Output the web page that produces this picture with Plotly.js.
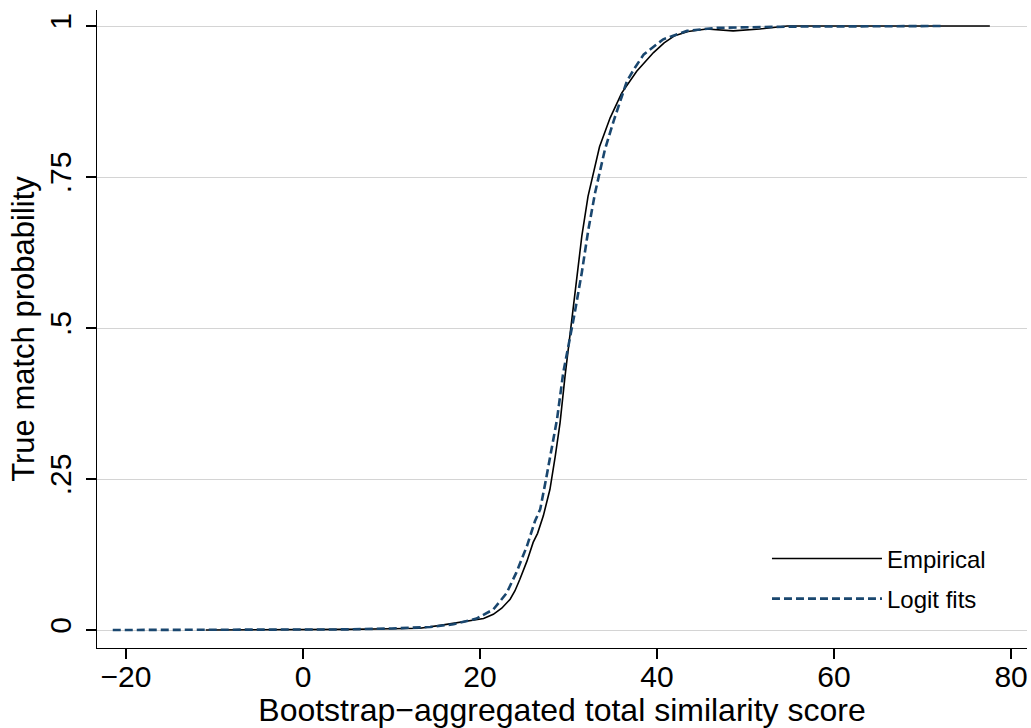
<!DOCTYPE html>
<html><head><meta charset="utf-8">
<script src="https://cdn.plot.ly/plotly-3.0.1.min.js"></script>
<style>html,body{margin:0;padding:0;background:#fff}#chart{width:1031px;height:728px}</style>
</head><body><div id="chart"></div><script>
// Empirical curve
const empiricalX = [-11, -5, 0, 5, 10, 13.2, 15.5, 17.0, 18.9, 20.4, 21.5, 22.45, 23.4, 23.95, 24.5, 25.3, 26.0, 26.5, 27.15, 27.9, 28.5, 29.04, 29.6, 30.1, 30.36, 30.9, 31.5, 32.2, 32.8, 33.5, 34.7, 36.0, 37.7, 39.6, 40.8, 42.0, 43.5, 45.6, 48.6, 51.6, 54.7, 77.6];
const empiricalY = [0, 0, 0.0005, 0.001, 0.002, 0.003, 0.0076, 0.011, 0.015, 0.019, 0.026, 0.036, 0.051, 0.065, 0.084, 0.114, 0.145, 0.16, 0.189, 0.233, 0.288, 0.343, 0.42, 0.48, 0.52, 0.586, 0.652, 0.718, 0.755, 0.80, 0.848, 0.889, 0.925, 0.956, 0.972, 0.984, 0.991, 0.995, 0.992, 0.995, 1.0, 1.0];
// Logit fits
const logitX = [-21.5, -10, 0, 5, 10, 14.35, 17.0, 19.6, 21.5, 23.0, 24.1, 25.3, 26.2, 26.8, 27.46, 28.1, 28.7, 29.4, 30.0, 30.7, 31.5, 32.24, 33.0, 33.56, 34.1, 35.1, 36.6, 37.5, 38.5, 40.7, 43.4, 46.7, 50.9, 55, 72.5];
const logitY = [0, 0.0001, 0.0005, 0.001, 0.0025, 0.005, 0.0094, 0.019, 0.034, 0.061, 0.095, 0.139, 0.18, 0.2, 0.25, 0.299, 0.349, 0.426, 0.47, 0.525, 0.592, 0.663, 0.724, 0.763, 0.795, 0.843, 0.909, 0.931, 0.953, 0.978, 0.992, 0.997, 0.998, 0.999, 1.0];
const seriesNames = ['Empirical', 'Logit fits'];
const xTickVals = [-20, 0, 20, 40, 60, 80];
const xTickText = ['\u221220', '0', '20', '40', '60', '80'];
const yTickVals = [0, 0.25, 0.5, 0.75, 1];
const yTickText = ['0', '.25', '.5', '.75', '1'];
const xTitle = 'Bootstrap\u2212aggregated total similarity score';
const yTitle = 'True match probability';

const FONT = 'Liberation Sans, Arial, Helvetica, sans-serif';
const traces = [
  {x: empiricalX, y: empiricalY, name: seriesNames[0], legendgroup: 'g1', type: 'scatter', mode: 'lines',
   line: {color: '#000000', width: 1.6}},
  {x: logitX, y: logitY, name: seriesNames[1], legendgroup: 'g2', type: 'scatter', mode: 'lines',
   line: {color: '#1a476f', width: 2.6, dash: '8px,4px'}}
];
const layout = {
  width: 1031, height: 728,
  margin: {l: 97, r: 4, t: 10, b: 80, pad: 0},
  paper_bgcolor: '#ffffff', plot_bgcolor: '#ffffff',
  font: {family: FONT, color: '#000000'},
  showlegend: true,
  legend: {x: 0.7204, y: 0.175, xanchor: 'left', yanchor: 'top', bgcolor: 'rgba(0,0,0,0)',
           font: {size: 24, family: FONT, color: '#000'}, itemwidth: 110, tracegroupgap: 6},
  xaxis: {range: [-23.28, 81.8], tickvals: xTickVals, ticktext: xTickText,
          ticks: 'outside', ticklen: 10, tickwidth: 1.3, tickcolor: '#000',
          showline: true, linecolor: '#000', linewidth: 1.3, showgrid: false, zeroline: false,
          tickfont: {size: 30, family: FONT, color: '#000'}, ticklabelstandoff: -8,
          title: {text: xTitle, font: {size: 32, family: FONT, color: '#000'}, standoff: 5}},
  yaxis: {range: [-0.0298, 1.0265], tickvals: yTickVals, ticktext: yTickText, tickangle: -90,
          ticks: 'outside', ticklen: 10, tickwidth: 1.3, tickcolor: '#000',
          showline: true, linecolor: '#000', linewidth: 1.3, showgrid: true,
          gridcolor: '#d4d4d4', gridwidth: 1, zeroline: false,
          tickfont: {size: 30, family: FONT, color: '#000'}, ticklabelstandoff: 3,
          title: {text: yTitle, font: {size: 31, family: FONT, color: '#000'}, standoff: 0}}
};
Plotly.newPlot('chart', traces, layout, {staticPlot: true, displayModeBar: false});
</script></body></html>
